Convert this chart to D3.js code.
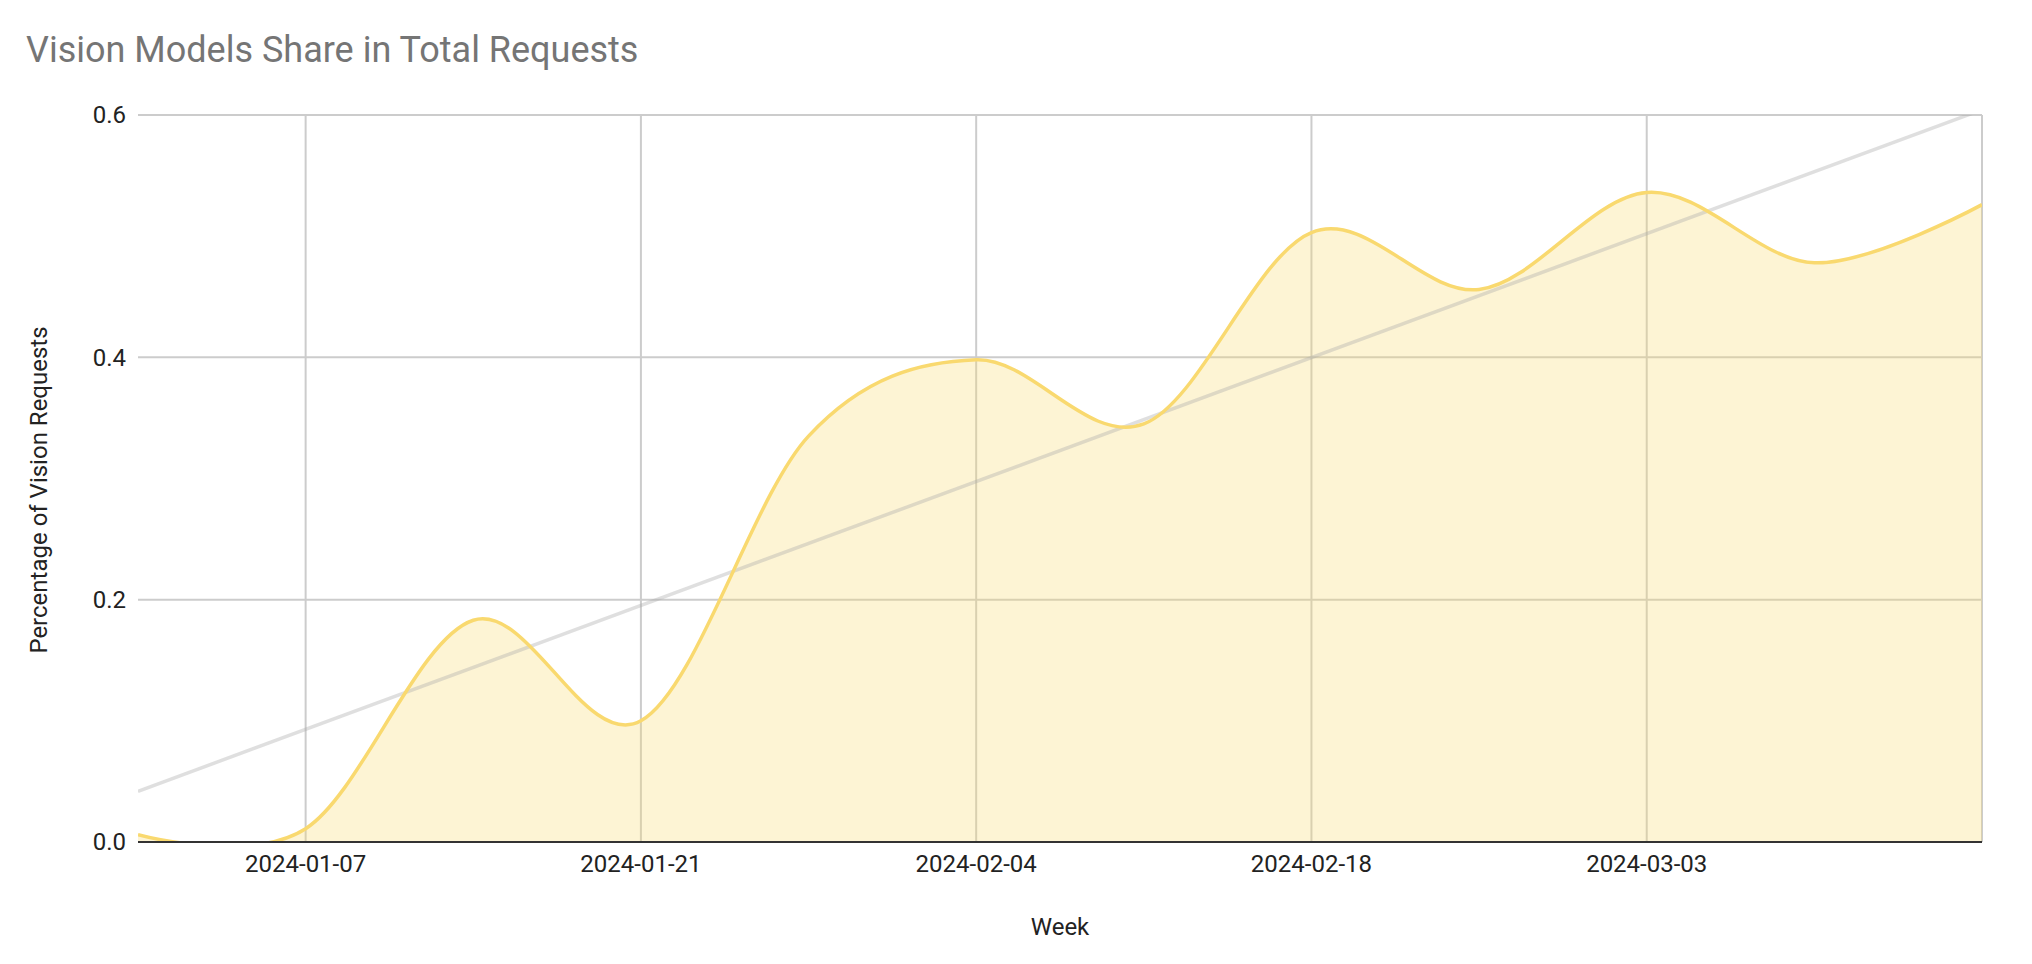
<!DOCTYPE html>
<html>
<head>
<meta charset="utf-8">
<script src="https://cdn.jsdelivr.net/npm/d3@7"></script>
<style>
  html, body { margin: 0; padding: 0; background: #fff; }
  svg { display: block; font-family: Roboto, "Noto Sans", Arial, sans-serif; }
</style>
</head>
<body>
<svg id="chart" width="2032" height="964"></svg>
<script>
// ---- data ----
const weeks = ["2023-12-31","2024-01-07","2024-01-14","2024-01-21","2024-01-28","2024-02-04",
               "2024-02-11","2024-02-18","2024-02-25","2024-03-03","2024-03-10","2024-03-17"];
const visionShare = [0.006, 0.011, 0.183, 0.100, 0.335, 0.398, 0.345, 0.503, 0.456, 0.536, 0.478, 0.526];
const xTickLabels = ["2024-01-07","2024-01-21","2024-02-04","2024-02-18","2024-03-03"];
const yTicks = [0.0, 0.2, 0.4, 0.6];
const chartTitle = "Vision Models Share in Total Requests";
const xTitle = "Week";
const yTitle = "Percentage of Vision Requests";

// ---- layout ----
const margin = {left: 138, right: 2032 - 1982, top: 115, bottom: 964 - 842};
const W = 2032, H = 964;
const svg = d3.select("#chart");
const parse = d3.utcParse("%Y-%m-%d");
const data = weeks.map((w, i) => ({date: parse(w), v: visionShare[i], i}));

const x = d3.scaleUtc()
  .domain(d3.extent(data, d => d.date))
  .range([margin.left, W - margin.right]);
const y = d3.scaleLinear()
  .domain([0, 0.6])
  .range([H - margin.bottom, margin.top]);

// clip
svg.append("defs").append("clipPath").attr("id", "plotClip")
  .append("rect")
  .attr("x", margin.left).attr("y", margin.top)
  .attr("width", W - margin.left - margin.right)
  .attr("height", H - margin.top - margin.bottom);

// gridlines horizontal
const gridColor = "#cccccc";
svg.append("g").selectAll("line").data(yTicks.filter(t => t > 0))
  .join("line")
  .attr("x1", margin.left).attr("x2", W - margin.right)
  .attr("y1", d => y(d)).attr("y2", d => y(d))
  .attr("stroke", gridColor).attr("stroke-width", 2);

// gridlines vertical (tick dates + right edge)
const vGrid = xTickLabels.map(parse).concat([x.domain()[1]]);
svg.append("g").selectAll("line").data(vGrid)
  .join("line")
  .attr("x1", d => x(d)).attr("x2", d => x(d))
  .attr("y1", margin.top).attr("y2", H - margin.bottom)
  .attr("stroke", gridColor).attr("stroke-width", 2);

// area + line
const lineColor = "#f9d96f";
const curve = d3.curveCardinal.tension(0);
const area = d3.area().x(d => x(d.date)).y0(y(0)).y1(d => y(d.v)).curve(curve);
const line = d3.line().x(d => x(d.date)).y(d => y(d.v)).curve(curve);

const plot = svg.append("g").attr("clip-path", "url(#plotClip)");
plot.append("path").datum(data).attr("d", area)
  .attr("fill", lineColor).attr("fill-opacity", 0.3);

// trendline (least squares fit computed from the data)
const n = data.length;
const mx = d3.mean(data, d => d.i), my = d3.mean(data, d => d.v);
const slope = d3.sum(data, d => (d.i - mx) * (d.v - my)) / d3.sum(data, d => (d.i - mx) ** 2);
const intercept = my - slope * mx;
const trend = [data[0], data[n - 1]].map(d => ({date: d.date, v: intercept + slope * d.i}));
plot.append("path").datum(trend)
  .attr("d", d3.line().x(d => x(d.date)).y(d => y(d.v)))
  .attr("fill", "none").attr("stroke", "rgb(170,170,170)").attr("stroke-opacity", 0.38)
  .attr("stroke-width", 3.5);

plot.append("path").datum(data).attr("d", line)
  .attr("fill", "none").attr("stroke", lineColor).attr("stroke-width", 3.5);

// baseline
svg.append("line")
  .attr("x1", margin.left).attr("x2", W - margin.right)
  .attr("y1", y(0)).attr("y2", y(0))
  .attr("stroke", "#333333").attr("stroke-width", 2);

// y tick labels
svg.append("g").selectAll("text").data(yTicks)
  .join("text")
  .attr("x", margin.left - 12).attr("y", d => y(d))
  .attr("dy", "0.35em").attr("text-anchor", "end")
  .attr("font-size", 24).attr("fill", "#222")
  .text(d => d3.format(".1f")(d));

// x tick labels
svg.append("g").selectAll("text").data(xTickLabels)
  .join("text")
  .attr("x", d => x(parse(d))).attr("y", y(0) + 22)
  .attr("dy", "0.35em").attr("text-anchor", "middle")
  .attr("font-size", 24).attr("fill", "#222")
  .text(d => d);

// axis titles
svg.append("text")
  .attr("x", (margin.left + W - margin.right) / 2).attr("y", 927)
  .attr("dy", "0.35em").attr("text-anchor", "middle")
  .attr("font-size", 24).attr("fill", "#222").text(xTitle);
svg.append("text")
  .attr("transform", `translate(39,490) rotate(-90)`)
  .attr("dy", "0.35em").attr("text-anchor", "middle")
  .attr("font-size", 24).attr("fill", "#222").text(yTitle);

// title
svg.append("text")
  .attr("x", 26).attr("y", 49).attr("dy", "0.35em")
  .attr("font-size", 36).attr("fill", "#757575").text(chartTitle);
</script>
</body>
</html>
